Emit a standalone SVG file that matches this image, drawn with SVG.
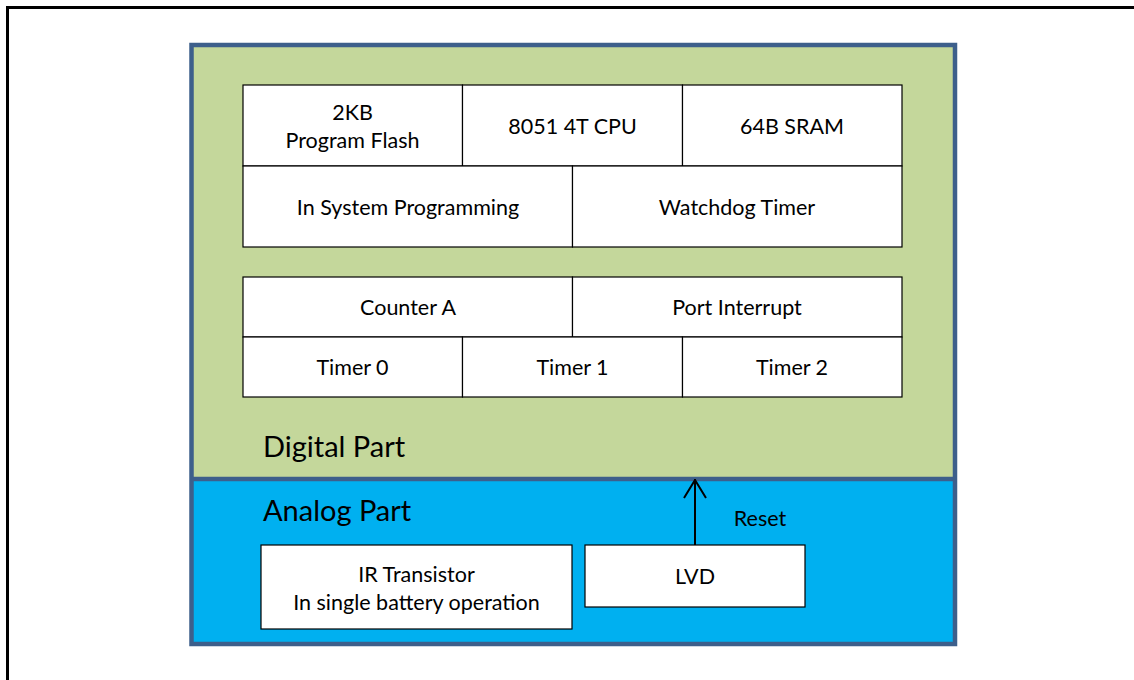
<svg xmlns="http://www.w3.org/2000/svg" width="1134" height="680" viewBox="0 0 1134 680">
  <style>
    text { font-family: Lato, "Liberation Sans", sans-serif; fill: #000; text-anchor: middle; }
    .cell { fill: #fff; stroke: #000; stroke-width: 1.2; }
    .lbl { font-size: 21.5px; }
    .part { font-size: 29px; text-anchor: start; }
    .wire { fill: none; stroke: #000; stroke-width: 2; }
  </style>
  <defs>
    <marker id="open" viewBox="0 0 20 24" refX="20" refY="12" markerWidth="20" markerHeight="24" markerUnits="userSpaceOnUse" orient="auto">
      <path d="M1 1 L19 12 L1 23" fill="none" stroke="#000" stroke-width="2"/>
    </marker>
  </defs>
  <rect width="1134" height="680" fill="#fff"/>
  <!-- page frame -->
  <rect x="7.5" y="7.5" width="1135" height="685" fill="none" stroke="#000" stroke-width="3"/>

  <!-- chip outline: digital and analog sections -->
  <g id="digital-part">
    <rect x="191.5" y="45" width="763.5" height="434" fill="#c4d79b"/>
    <text class="part" x="263" y="457">Digital Part</text>
  </g>
  <g id="analog-part">
    <rect x="191.5" y="479" width="763.5" height="165" fill="#00b0f0"/>
    <text class="part" x="263" y="521">Analog Part</text>
  </g>
  <rect x="191.5" y="45" width="763.5" height="599" fill="none" stroke="#3d5f8b" stroke-width="4.5"/>
  <line x1="191.5" y1="479" x2="955" y2="479" stroke="#3d5f8b" stroke-width="4.5"/>

  <!-- core block -->
  <g id="program-flash">
    <rect class="cell" x="243" y="85" width="219.5" height="81"/>
    <text class="lbl" x="352.5" y="120">2KB</text>
    <text class="lbl" x="352.5" y="148">Program Flash</text>
  </g>
  <g id="cpu">
    <rect class="cell" x="462.5" y="85" width="220" height="81"/>
    <text class="lbl" x="572.5" y="134">8051 4T CPU</text>
  </g>
  <g id="sram">
    <rect class="cell" x="682.5" y="85" width="219.5" height="81"/>
    <text class="lbl" x="792" y="134">64B SRAM</text>
  </g>
  <g id="isp">
    <rect class="cell" x="243" y="166" width="329.5" height="81"/>
    <text class="lbl" x="408" y="215">In System Programming</text>
  </g>
  <g id="watchdog">
    <rect class="cell" x="572.5" y="166" width="329.5" height="81"/>
    <text class="lbl" x="737" y="215">Watchdog Timer</text>
  </g>

  <!-- peripherals block -->
  <g id="counter-a">
    <rect class="cell" x="243" y="277" width="329.5" height="60"/>
    <text class="lbl" x="408" y="315">Counter A</text>
  </g>
  <g id="port-interrupt">
    <rect class="cell" x="572.5" y="277" width="329.5" height="60"/>
    <text class="lbl" x="737" y="315">Port Interrupt</text>
  </g>
  <g id="timer0">
    <rect class="cell" x="243" y="337" width="219.5" height="60"/>
    <text class="lbl" x="352.5" y="375">Timer 0</text>
  </g>
  <g id="timer1">
    <rect class="cell" x="462.5" y="337" width="220" height="60"/>
    <text class="lbl" x="572.5" y="375">Timer 1</text>
  </g>
  <g id="timer2">
    <rect class="cell" x="682.5" y="337" width="219.5" height="60"/>
    <text class="lbl" x="792" y="375">Timer 2</text>
  </g>

  <!-- analog blocks -->
  <g id="ir-transistor">
    <rect class="cell" x="261" y="545" width="311" height="84"/>
    <text class="lbl" x="416.5" y="582">IR Transistor</text>
    <text class="lbl" x="416.5" y="610">In single battery operation</text>
  </g>
  <g id="lvd">
    <rect class="cell" x="585" y="545" width="220" height="62"/>
    <text class="lbl" x="695" y="584">LVD</text>
  </g>

  <g id="connectors">
    <line class="wire" x1="695" y1="545" x2="695" y2="479" marker-end="url(#open)"/>
    <text class="lbl" x="760" y="526">Reset</text>
  </g>
</svg>
